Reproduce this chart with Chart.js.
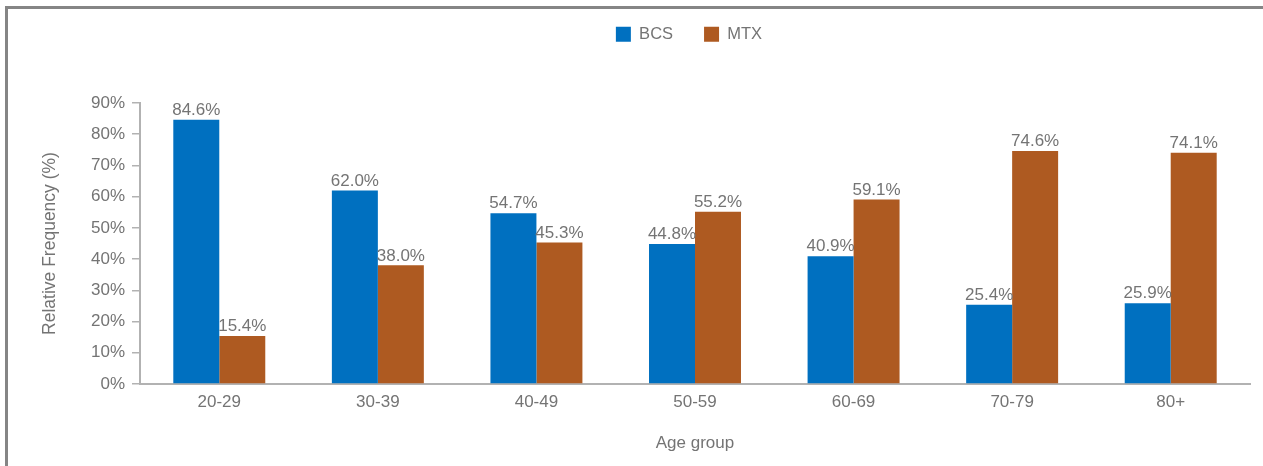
<!DOCTYPE html>
<html>
<head>
<meta charset="utf-8">
<script src="https://cdn.jsdelivr.net/npm/chart.js"></script>
<style>
    html, body { margin: 0; padding: 0; background: #fff; }
    #wrap { position: relative; width: 1263px; height: 466px; }
    #frame { position: absolute; left: 5px; top: 6px; right: 0; bottom: 0;
             border-top: 3px solid #858585; border-left: 3px solid #858585; pointer-events: none; }
</style>
</head>
<body>
<div id="wrap">
    <canvas id="ageChart" width="1263" height="466"></canvas>
    <div id="frame"></div>
</div>
<script>
// Age groups and share of each treatment (%)
const ageGroups = ['20-29', '30-39', '40-49', '50-59', '60-69', '70-79', '80+'];
const bcsValues = [84.6, 62.0, 54.7, 44.8, 40.9, 25.4, 25.9];
const mtxValues = [15.4, 38.0, 45.3, 55.2, 59.1, 74.6, 74.1];
const yTicks = [0, 10, 20, 30, 40, 50, 60, 70, 80, 90];

const textGray = '#747474';
const axisGray = '#b2b2b2';
const fontFamily = 'Arial, "Liberation Sans", sans-serif';

// value labels above each bar
const barLabels = {
    id: 'barLabels',
    afterDatasetsDraw(chart) {
        const ctx = chart.ctx;
        ctx.save();
        ctx.font = '17px ' + fontFamily;
        ctx.fillStyle = textGray;
        ctx.textAlign = 'center';
        ctx.textBaseline = 'bottom';
        chart.data.datasets.forEach((ds, i) => {
            chart.getDatasetMeta(i).data.forEach((bar, j) => {
                ctx.fillText(ds.data[j].toFixed(1) + '%', bar.x, bar.y - 1);
            });
        });
        ctx.restore();
    }
};

// reserve a fixed band for the legend and nudge it right of centre
const legendBand = {
    id: 'legendBand',
    beforeInit(chart) {
        const fit = chart.legend.fit;
        chart.legend.fit = function() {
            fit.call(this);
            this.height = 108;
        };
    },
    afterLayout(chart) {
        chart.legend.left += 128;
    }
};

new Chart(document.getElementById('ageChart'), {
    type: 'bar',
    data: {
        labels: ageGroups,
        datasets: [
            { label: 'BCS', data: bcsValues, backgroundColor: '#0070c0' },
            { label: 'MTX', data: mtxValues, backgroundColor: '#ae5a21' }
        ]
    },
    options: {
        responsive: false,
        animation: false,
        layout: { padding: { top: -5, right: 13, left: 0, bottom: 0 } },
        datasets: { bar: { barPercentage: 1.0, categoryPercentage: 0.58 } },
        plugins: {
            legend: {
                position: 'top',
                labels: {
                    boxWidth: 15, boxHeight: 15, padding: 31,
                    color: textGray,
                    font: { family: fontFamily, size: 16.5 }
                }
            },
            tooltip: { enabled: false }
        },
        scales: {
            x: {
                grid: { display: false, drawTicks: false },
                border: { display: true, color: axisGray, width: 2 },
                ticks: { color: textGray, padding: 8, font: { family: fontFamily, size: 17 } },
                title: {
                    display: true, text: 'Age group', color: textGray,
                    font: { family: fontFamily, size: 17 }, padding: { top: 0, bottom: 12 }
                },
                afterFit(scale) { scale.height = 82; }
            },
            y: {
                min: 0, max: 90,
                afterBuildTicks(scale) { scale.ticks = yTicks.map(v => ({ value: v })); },
                grid: { drawOnChartArea: false, drawTicks: true, tickLength: 8, color: axisGray, lineWidth: 1.5 },
                border: { display: true, color: axisGray, width: 2 },
                ticks: {
                    color: textGray, padding: 7,
                    font: { family: fontFamily, size: 17 },
                    callback: v => v + '%'
                },
                title: {
                    display: true, text: 'Relative Frequency (%)', color: textGray,
                    font: { family: fontFamily, size: 17.5 }, padding: { top: 40, bottom: 0 }
                },
                afterFit(scale) { scale.width = 140; }
            }
        }
    },
    plugins: [legendBand, barLabels]
});
</script>
</body>
</html>
